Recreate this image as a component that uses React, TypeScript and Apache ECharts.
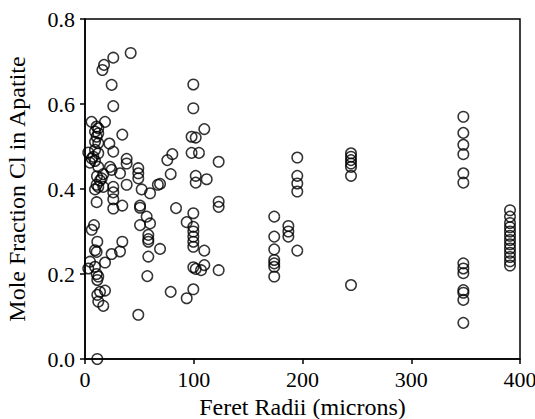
import React, { useEffect, useRef } from "react";
import * as echarts from "echarts";

// Feret radius (microns) vs mole fraction Cl in apatite
const smallGrains: [number, number][] = [
  [42, 0.72], [26, 0.709], [17.5, 0.692], [16, 0.68], [24.5, 0.645], [26, 0.595],
  [6, 0.558], [18.4, 0.558], [10.7, 0.547], [12.2, 0.543], [9.2, 0.535], [12.2, 0.531],
  [34.3, 0.528], [10.7, 0.523], [9.2, 0.511], [12.2, 0.508], [22.4, 0.507],
  [3, 0.486], [9.2, 0.492], [12.2, 0.484], [26, 0.488], [7.6, 0.476], [6.2, 0.472],
  [9.2, 0.466], [4.6, 0.462], [12.2, 0.452], [38.3, 0.471], [38.3, 0.46], [23, 0.452],
  [24.5, 0.445], [49, 0.449], [49, 0.437], [49, 0.425], [32.2, 0.437], [16.8, 0.435],
  [15.3, 0.425], [11, 0.43], [13.8, 0.42], [12.2, 0.405], [26, 0.405], [38.3, 0.41],
  [52.1, 0.399], [59.8, 0.39], [67, 0.41], [10.7, 0.41], [16.8, 0.405], [9.2, 0.399],
  [26, 0.392], [26, 0.376], [10.7, 0.369], [26, 0.354], [34.3, 0.361], [50.6, 0.361],
  [50.6, 0.356], [8.3, 0.315], [6.2, 0.304], [50.6, 0.315], [59.8, 0.319], [56.7, 0.335],
  [58.2, 0.292], [58.2, 0.282], [58.2, 0.276], [11.3, 0.276], [34.3, 0.276], [69, 0.259],
  [32.2, 0.253], [24.5, 0.247], [18.4, 0.227], [9.2, 0.256], [10.7, 0.252], [4.6, 0.229],
  [3, 0.213], [9.2, 0.217], [10.7, 0.2], [12.2, 0.194], [11.3, 0.186], [58.2, 0.241],
  [57.3, 0.195], [13.8, 0.158], [18.4, 0.161], [11.3, 0.151], [12.2, 0.135], [16.8, 0.125],
  [49, 0.104], [11.3, 0.0],
];

const midGrains: [number, number][] = [
  [80.3, 0.482], [75.7, 0.468], [78.8, 0.435], [69, 0.412], [83.7, 0.355], [93.5, 0.322],
  [78.8, 0.158], [93.5, 0.143],
  [99.6, 0.646], [99.6, 0.59], [98, 0.523], [101.8, 0.521], [98, 0.485], [104.8, 0.485],
  [101.8, 0.431], [101.8, 0.415], [99.6, 0.343], [99.6, 0.311], [99.6, 0.3], [99.6, 0.288],
  [99.6, 0.276], [99.6, 0.264], [99.6, 0.216], [101.8, 0.212], [99.6, 0.164],
  [109.7, 0.541], [111.9, 0.423], [109.7, 0.255], [109.7, 0.221], [106.7, 0.209],
  [122.9, 0.464], [122.9, 0.37], [122.9, 0.358], [122.9, 0.209],
];

const largeGrains: [number, number][] = [
  [174, 0.335], [174, 0.288], [174, 0.258], [174, 0.233], [174, 0.225], [174, 0.217], [174, 0.194],
  [187, 0.313], [187, 0.3], [187, 0.288],
  [195.2, 0.474], [195.2, 0.431], [195.2, 0.413], [195.2, 0.394], [195.2, 0.255],
  [244.6, 0.484], [244.6, 0.476], [244.6, 0.468], [244.6, 0.46], [244.6, 0.452], [244.6, 0.431], [244.6, 0.174],
  [347.9, 0.57], [347.9, 0.532], [347.9, 0.504], [347.9, 0.482], [347.9, 0.437], [347.9, 0.415],
  [347.9, 0.225], [347.9, 0.213], [347.9, 0.202], [347.9, 0.162], [347.9, 0.156], [347.9, 0.139], [347.9, 0.085],
  [390.8, 0.35], [390.8, 0.335], [390.8, 0.32], [390.8, 0.31], [390.8, 0.3], [390.8, 0.29], [390.8, 0.28],
  [390.8, 0.27], [390.8, 0.26], [390.8, 0.25], [390.8, 0.24], [390.8, 0.23], [390.8, 0.22],
];

const xTitle = "Feret Radii (microns)";
const yTitle = "Mole Fraction Cl in Apatite";

const FONT = "'Liberation Serif', 'Times New Roman', serif";

export default function App() {
  const ref = useRef<HTMLDivElement>(null);
  useEffect(() => {
    if (!ref.current) return;
    const chart = echarts.init(ref.current, null, { renderer: "svg" });
    const axisCommon = {
      axisLine: { show: true, lineStyle: { color: "#000", width: 1.5 } },
      axisTick: { show: true, inside: false, length: 5, lineStyle: { color: "#000", width: 1.5 } },
      splitLine: { show: false },
      nameTextStyle: { fontFamily: FONT, fontSize: 24, color: "#000" },
    };
    const data = [...smallGrains, ...midGrains, ...largeGrains];
    chart.setOption({
      animation: false,
      backgroundColor: "#fff",
      textStyle: { fontFamily: FONT },
      grid: {
        left: 85, right: 15, top: 19, bottom: 60,
        outerBoundsMode: "none",
        containLabel: false,
        show: true, borderColor: "#000", borderWidth: 1.5, backgroundColor: "transparent",
      },
      xAxis: {
        type: "value", min: 0, max: 400, interval: 100,
        name: xTitle, nameLocation: "middle", nameGap: 34,
        axisLabel: { fontFamily: FONT, fontSize: 22, color: "#000", margin: 9 },
        ...axisCommon,
      },
      yAxis: {
        type: "value", min: 0, max: 0.8, interval: 0.2,
        name: yTitle, nameLocation: "middle", nameGap: 56,
        axisLabel: {
          fontFamily: FONT, fontSize: 22, color: "#000", margin: 10,
          formatter: (v: number) => v.toFixed(1),
        },
        ...axisCommon,
      },
      series: [
        {
          type: "scatter",
          data,
          symbol: "circle",
          symbolSize: 10.5,
          itemStyle: { color: "transparent", borderColor: "#000", borderWidth: 1.5 },
        },
      ],
    });
    return () => chart.dispose();
  }, []);
  return <div ref={ref} style={{ width: 535, height: 419, position: "absolute", left: 0, top: 0 }} />;
}
